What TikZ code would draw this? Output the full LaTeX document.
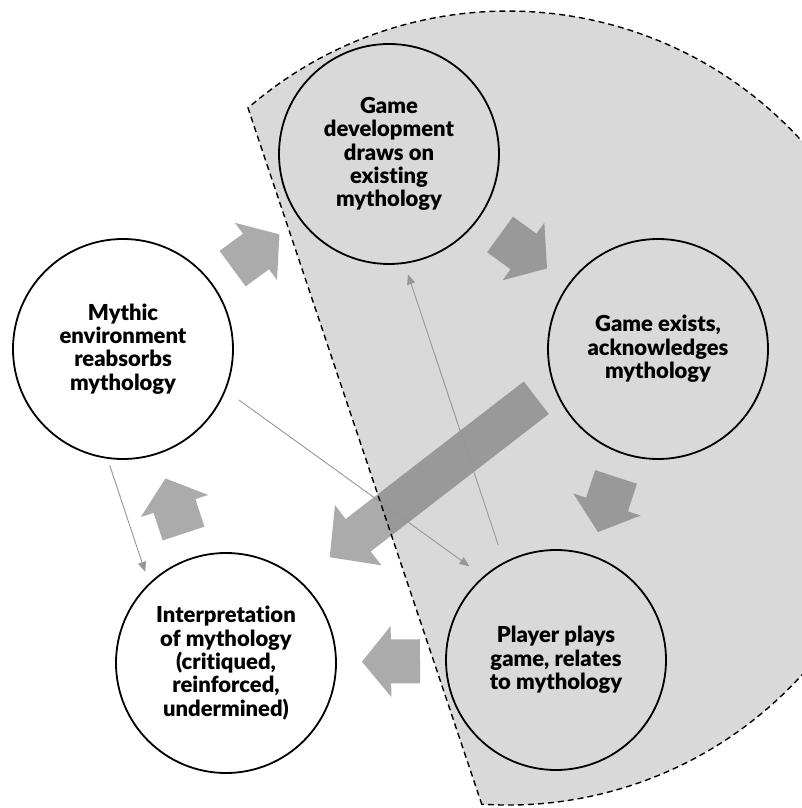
\documentclass[tikz,border=0pt]{standalone}
\usepackage{fontspec}
\setmainfont{Lato}[BoldFont={Lato Black},Ligatures=NoCommon]
\usetikzlibrary{arrows.meta}

\definecolor{regiongray}{RGB}{217,217,217}
\definecolor{arrowgray}{RGB}{102,102,102}
\definecolor{linkgray}{RGB}{150,150,150}

\begin{document}
\begin{tikzpicture}[x=1pt,y=1pt]
\tikzset{phase/.style={circle,draw=black,line width=1.8pt,minimum size=220pt,inner sep=0pt,align=center,font=\bfseries\fontsize{22}{23.4}\selectfont},
  link/.style={draw=linkgray,line width=0.9pt,-{Triangle[length=10pt,width=8pt]}},
  hop/.style={sloped,allow upside down,pos=0.5},
  pics/blockarr/.style n args={4}{code={\fill[arrowgray,fill opacity=0.55] (-#1/2,-#2/2) -- (#1/2-#4,-#2/2) -- (#1/2-#4,-#3/2) -- (#1/2,0) -- (#1/2-#4,#3/2) -- (#1/2-#4,#2/2) -- (-#1/2,#2/2) -- cycle;}}}
\useasboundingbox (0,0) rectangle (802,808);
\clip (0,0) rectangle (802,808);
% the part of the cycle that happens inside the game
\fill[regiongray] (482,3) -- (248,700) arc[start angle=130.9,end angle=-93.7,radius=397] -- cycle;
\node[phase] (dev) at (389,654) {Game\\development\\draws on\\existing\\mythology};
\node[phase] (gex) at (658,459) {Game exists,\\acknowledges\\mythology};
\node[phase] (play) at (556,148) {Player plays\\game, relates\\to mythology};
\node[phase] (interp) at (226,145) {Interpretation\\of mythology\\(critiqued,\\reinforced,\\undermined)};
\node[phase] (myth) at (123,459) {Mythic\\environment\\reabsorbs\\mythology};
\foreach \a/\b in {myth/dev,dev/gex,gex/play,play/interp,interp/myth}
    \path (\a) -- pic[hop] {blockarr={58}{44}{71}{29}} (\b);
\coordinate (bigtail) at (536,410);
\coordinate (bigtip) at (330,251);
\path (bigtail) -- pic[hop] {blockarr={261}{41}{76}{36}} (bigtip);
\draw[line width=1.4pt,dash pattern=on 6pt off 4pt] (482,3) -- (248,700) arc[start angle=130.9,end angle=-93.7,radius=397];
\draw[link,shorten <=16pt,shorten >=17pt] (myth.-22) -- (play.131);
\draw[link,shorten <=18pt,shorten >=11pt] (play.118) -- (dev.-82);
\draw[link,shorten <=7pt,shorten >=12pt] (myth.-98) -- (interp.134);
\end{tikzpicture}
\end{document}
